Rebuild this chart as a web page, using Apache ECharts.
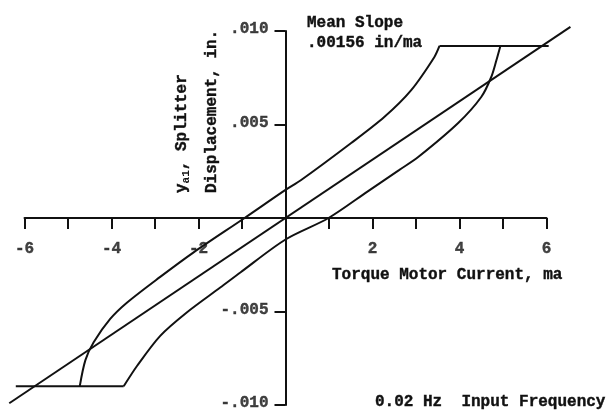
<!DOCTYPE html>
<html>
<head>
<meta charset="utf-8">
<script src="https://cdn.jsdelivr.net/npm/echarts@6/dist/echarts.min.js"></script>
<style>
  html, body { margin: 0; padding: 0; background: #fff; }
  #chart { width: 613px; height: 416px; }
</style>
</head>
<body>
<div id="chart"></div>
<script>
// Splitter displacement vs. torque motor current (0.02 Hz input)
const meanSlope = 0.00156;            // in/ma
const meanLineX = [-6.35, 6.55];      // extent of the mean-slope line, ma

// descending branch of the hysteresis loop [current ma, displacement in]
const upperBranch = [
  [3.54, 0.0092], [3.42, 0.0086], [2.89, 0.00684], [2.27, 0.0054],
  [1.51, 0.00401], [0.36, 0.00203], [0.0, 0.0015], [-0.94, 0.0],
  [-2.12, -0.00185], [-2.88, -0.00315], [-3.64, -0.00452], [-4.03, -0.0054],
  [-4.41, -0.00665], [-4.60, -0.0076], [-4.73, -0.0090]
];
// ascending branch
const lowerBranch = [
  [-3.72, -0.0090], [-3.41, -0.0079], [-2.88, -0.0063], [-2.27, -0.00505],
  [-1.50, -0.00372], [-1.03, -0.0029], [0.0, -0.00115], [0.99, 0.0],
  [1.90, 0.00144], [2.61, 0.00256], [3.05, 0.00326], [3.97, 0.00508],
  [4.50, 0.00647], [4.73, 0.00754], [4.85, 0.00845], [4.94, 0.0092]
];
// saturation plateaus
const topSaturation = [[3.54, 0.0092], [6.05, 0.0092]];
const bottomSaturation = [[-6.2, -0.0090], [-3.72, -0.0090]];

// axis ranges and labelled ticks
const xRange = { min: -6, max: 6, step: 1 };
const yRange = { min: -0.010, max: 0.010, step: 0.005 };
const xTickValues = [-6, -4, -2, 2, 4, 6];
const xTickLabels = ['-6', '-4', '-2', '2', '4', '6'];
const yTickValues = [0.010, 0.005, -0.005, -0.010];
const yTickLabels = ['.010', '.005', '-.005', '-.010'];

const FONT = 'Liberation Mono';
const INK = '#111';
const textBase = {
  fontFamily: FONT, fontWeight: 'bold', fontSize: 16,
  color: INK, textBorderColor: INK, textBorderWidth: 0.4
};

// plot geometry: the axes grid spans exactly the labelled ranges,
// a wider overlay grid with the same scale carries the curves
const axesBox = { left: 24.5, top: 31, width: 522, height: 374 };
const pxPerX = axesBox.width / (xRange.max - xRange.min);
const pxPerY = axesBox.height / (yRange.max - yRange.min);
const originX = axesBox.left + (0 - xRange.min) * pxPerX;
const originY = axesBox.top + yRange.max * pxPerY;
const wide = { xMin: -6.6, xMax: 6.7, yMin: -0.0108, yMax: 0.0108 };
const wideBox = {
  left: originX + wide.xMin * pxPerX,
  width: (wide.xMax - wide.xMin) * pxPerX,
  top: originY - wide.yMax * pxPerY,
  height: (wide.yMax - wide.yMin) * pxPerY
};

const meanLine = meanLineX.map(x => [x, meanSlope * x]);

const chart = echarts.init(document.getElementById('chart'), null, { renderer: 'canvas' });

const lineSeries = (data, smooth) => ({
  type: 'line',
  xAxisIndex: 1, yAxisIndex: 1,
  data: data,
  smooth: smooth,
  showSymbol: false,
  silent: true,
  lineStyle: { color: INK, width: 2 }
});

// invisible points on the axes that carry the tick labels
const tickLabelSeries = (data, position, offset) => ({
  type: 'scatter',
  xAxisIndex: 0, yAxisIndex: 0,
  data: data,
  symbolSize: 0,
  silent: true,
  clip: false,
  label: Object.assign({
    show: true, position: position, offset: offset,
    formatter: p => p.data[2]
  }, textBase)
});

const graphicText = (x, y, text) => ({
  type: 'text', x: x, y: y,
  style: {
    text: text, align: 'left', verticalAlign: 'middle',
    fontFamily: FONT, fontWeight: 'bold', fontSize: 16,
    fill: INK, stroke: INK, lineWidth: 0.4
  }
});

const hiddenAxis = (min, max) => ({
  type: 'value', gridIndex: 1, min: min, max: max,
  show: false, splitLine: { show: false }
});

chart.setOption({
  backgroundColor: '#fff',
  animation: false,
  grid: [
    Object.assign({ containLabel: false, outerBoundsMode: 'none' }, axesBox),
    Object.assign({ containLabel: false, outerBoundsMode: 'none' }, wideBox)
  ],
  xAxis: [
    {
      type: 'value', gridIndex: 0,
      min: xRange.min, max: xRange.max, interval: xRange.step,
      axisLine: { onZero: true, lineStyle: { color: INK, width: 2 } },
      axisTick: { show: true, length: 11, lineStyle: { color: INK, width: 2 } },
      axisLabel: { show: false },
      splitLine: { show: false }
    },
    hiddenAxis(wide.xMin, wide.xMax)
  ],
  yAxis: [
    {
      type: 'value', gridIndex: 0,
      min: yRange.min, max: yRange.max, interval: yRange.step,
      axisLine: { onZero: true, lineStyle: { color: INK, width: 2 } },
      axisTick: { show: true, length: 11, lineStyle: { color: INK, width: 2 } },
      axisLabel: { show: false },
      splitLine: { show: false }
    },
    hiddenAxis(wide.yMin, wide.yMax)
  ],
  series: [
    lineSeries(meanLine, false),
    lineSeries(upperBranch, 0.3),
    lineSeries(lowerBranch, 0.3),
    lineSeries(topSaturation, false),
    lineSeries(bottomSaturation, false),
    tickLabelSeries(xTickValues.map((v, i) => [v, 0, xTickLabels[i]]), 'bottom', [0, 18]),
    tickLabelSeries(yTickValues.map((v, i) => [0, v, yTickLabels[i]]), 'left', [-12, -2])
  ],
  graphic: [
    {
      type: 'text', x: 182, y: 193, rotation: Math.PI / 2,
      style: {
        text: '{b|y}{s|a1}{b|, Splitter}',
        align: 'left', verticalAlign: 'middle',
        rich: {
          b: { fontFamily: FONT, fontWeight: 'bold', fontSize: 16, fill: INK, stroke: INK, lineWidth: 0.4 },
          s: { fontFamily: FONT, fontWeight: 'bold', fontSize: 11, fill: INK, padding: [8, 0, 0, 0] }
        }
      }
    },
    {
      type: 'text', x: 212, y: 193, rotation: Math.PI / 2,
      style: {
        text: 'Displacement, in.',
        align: 'left', verticalAlign: 'middle',
        fontFamily: FONT, fontWeight: 'bold', fontSize: 16,
        fill: INK, stroke: INK, lineWidth: 0.4
      }
    },
    graphicText(307, 23, 'Mean Slope'),
    graphicText(307, 43, '.00156 in/ma'),
    graphicText(332, 275, 'Torque Motor Current, ma'),
    graphicText(375, 402, '0.02 Hz  Input Frequency')
  ]
});
</script>
</body>
</html>
